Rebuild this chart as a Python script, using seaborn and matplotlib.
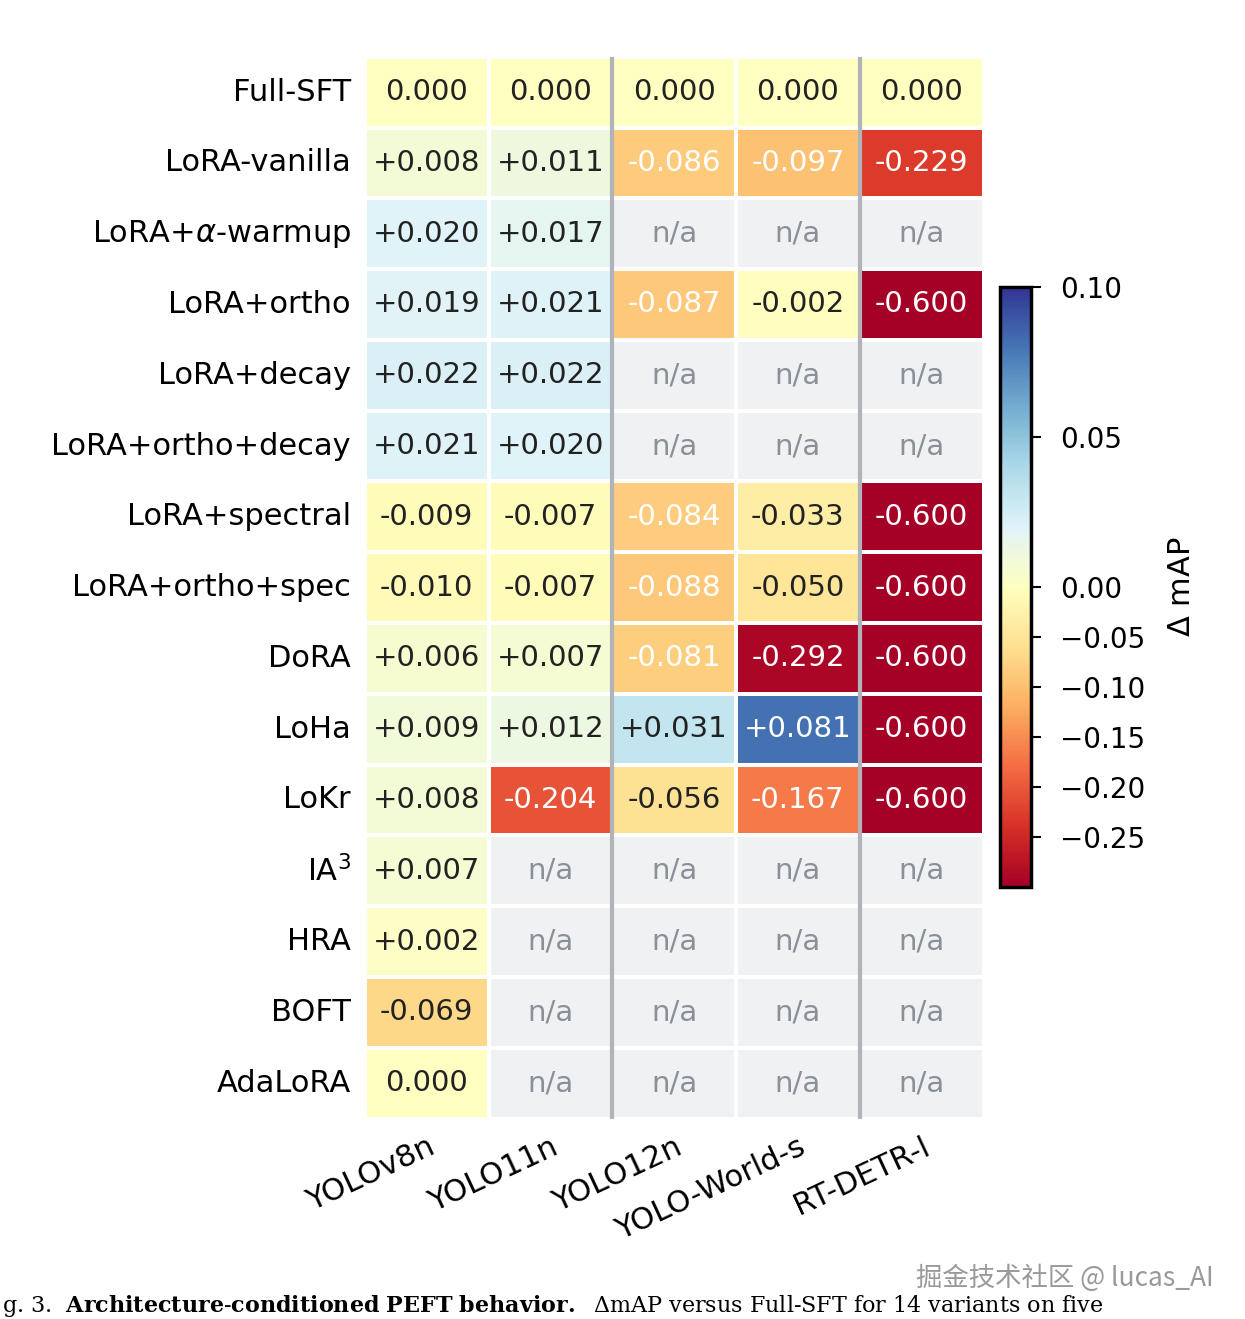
import numpy as np
import pandas as pd
import matplotlib
matplotlib.use('Agg')
import matplotlib.pyplot as plt
import seaborn as sns
from matplotlib.colors import TwoSlopeNorm

methods = ['Full-SFT', 'LoRA-vanilla', r'LoRA+$\alpha$-warmup', 'LoRA+ortho', 'LoRA+decay',
           'LoRA+ortho+decay', 'LoRA+spectral', 'LoRA+ortho+spec', 'DoRA', 'LoHa',
           'LoKr', r'IA$^3$', 'HRA', 'BOFT', 'AdaLoRA']
models = ['YOLOv8n', 'YOLO11n', 'YOLO12n', 'YOLO-World-s', 'RT-DETR-l']
nan = np.nan
yolov8n = [0.000, 0.008, 0.020, 0.019, 0.022, 0.021, -0.009, -0.010, 0.006, 0.009, 0.008, 0.007, 0.002, -0.069, 0.000]
yolo11n = [0.000, 0.011, 0.017, 0.021, 0.022, 0.020, -0.007, -0.007, 0.007, 0.012, -0.204, nan, nan, nan, nan]
yolo12n = [0.000, -0.086, nan, -0.087, nan, nan, -0.084, -0.088, -0.081, 0.031, -0.056, nan, nan, nan, nan]
yolo_world = [0.000, -0.097, nan, -0.002, nan, nan, -0.033, -0.050, -0.292, 0.081, -0.167, nan, nan, nan, nan]
rtdetr = [0.000, -0.229, nan, -0.600, nan, nan, -0.600, -0.600, -0.600, -0.600, -0.600, nan, nan, nan, nan]

df = pd.DataFrame({'YOLOv8n': yolov8n, 'YOLO11n': yolo11n, 'YOLO12n': yolo12n,
                   'YOLO-World-s': yolo_world, 'RT-DETR-l': rtdetr}, index=methods)

def fmt(v):
    if v == 0:
        return '0.000'
    return f'{v:+.3f}' if v > 0 else f'{v:.3f}'

fig = plt.figure(figsize=(12.45, 13.19), dpi=100)
ax = fig.add_axes([0.293, 0.152, 0.497, 0.805])
cax = fig.add_axes([0.803, 0.3275, 0.025, 0.455])
ax.set_facecolor('#f0f1f3')

norm = TwoSlopeNorm(vmin=-0.3, vcenter=0.0, vmax=0.1)
sns.heatmap(df, ax=ax, cmap='RdYlBu', norm=norm, linewidths=1.5, linecolor='white',
            cbar_ax=cax, cbar_kws={'ticks': [0.10, 0.05, 0.0, -0.05, -0.10, -0.15, -0.20, -0.25]})

for i, m in enumerate(methods):
    for j, c in enumerate(models):
        v = df.loc[m, c]
        if np.isnan(v):
            ax.text(j + 0.5, i + 0.5, 'n/a', ha='center', va='center', fontsize=21, color='#8a9098')
        else:
            col = 'white' if abs(v) > 0.07 else '#222222'
            ax.text(j + 0.5, i + 0.5, fmt(v), ha='center', va='center', fontsize=21, color=col)

for x in [2, 4]:
    ax.axvline(x, color='#b0b4ba', lw=3)

ax.set_xlabel('')
ax.set_ylabel('')
ax.tick_params(length=0, labelsize=22, pad=10)
ax.set_yticklabels(methods, rotation=0, fontsize=22)
ax.set_xticklabels(models, rotation=25, ha='right', rotation_mode='anchor', fontsize=22)

cax.tick_params(labelsize=20, length=7, width=1.5, pad=14)
cax.set_ylabel(r'$\Delta$ mAP', fontsize=22, labelpad=16)
for s in cax.spines.values():
    s.set_linewidth(2.5)

fig.text(0.975, 0.025, '掘金技术社区 @ lucas_AI', ha='right', fontsize=19, color='#999999',
         family=['Noto Sans CJK SC', 'DejaVu Sans'])
plt.rcParams['mathtext.fontset'] = 'dejavuserif'
fig.text(0.002, 0.0, r'g. 3.  $\bf{Architecture\text{-}conditioned\ PEFT\ behavior.}$  $\Delta$mAP versus Full-SFT for 14 variants on five',
         ha='left', va='bottom', fontsize=16, family='DejaVu Serif')

fig.savefig('out.png', dpi=100)
